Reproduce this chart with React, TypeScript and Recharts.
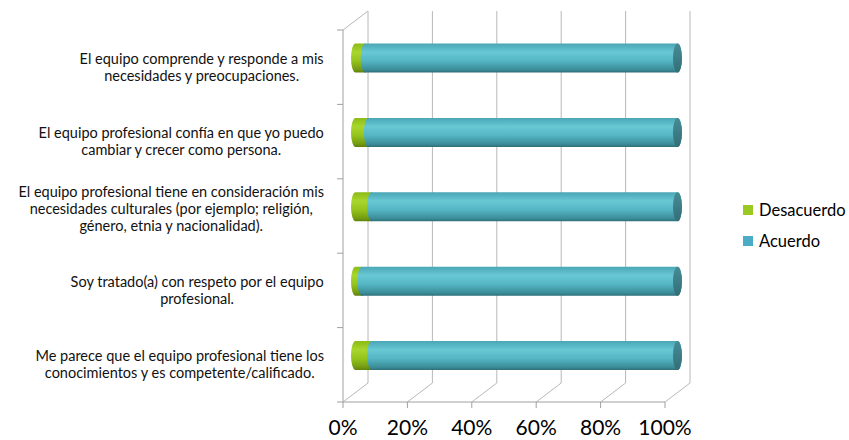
import React from 'react';
import { BarChart, Bar, XAxis, YAxis, CartesianGrid, Legend } from 'recharts';

// categories top to bottom, wrapped the way the original labels wrap
const categories = [
  'El equipo comprende y responde a mis\nnecesidades y preocupaciones.',
  'El equipo profesional confía en que yo puedo\ncambiar y crecer como persona.',
  'El equipo profesional tiene en consideración mis\nnecesidades culturales (por ejemplo; religión,\ngénero, etnia y nacionalidad).',
  'Soy tratado(a) con respeto por el equipo\nprofesional.',
  'Me parece que el equipo profesional tiene los\nconocimientos y es competente/calificado.',
];
const desacuerdo = [3, 4, 5, 2, 5];
const acuerdo = [97, 96, 95, 98, 95];
const xTicks = [0, 20, 40, 60, 80, 100];

const data = categories.map((name, i) => ({
  name,
  Desacuerdo: desacuerdo[i],
  Acuerdo: acuerdo[i],
}));

const W = 849;
const H = 440;
const PLOT_LEFT = 343;
const PLOT_TOP = 30;
const PLOT_RIGHT = 665;
const PLOT_BOTTOM = 402;
const DX = 25; // depth of the 3d box
const DY = -19;
const BAND = (PLOT_BOTTOM - PLOT_TOP) / categories.length;
const LABEL_RIGHT = 324;
const LABEL_SIZE = 14.5;
const FONT = 'Lato, "Open Sans", sans-serif';
const GRID = '#b8b8b8';
const AXIS = '#a0a0a0';

const GREEN = '#9bc922';
const TEAL = '#4bacc6';

let ctx: CanvasRenderingContext2D | null = null;
const measure = (s: string, size: number) => {
  if (!ctx) ctx = document.createElement('canvas').getContext('2d');
  if (!ctx) return s.length * size * 0.5;
  ctx.font = `${size}px Lato`;
  return ctx.measureText(s).width;
};

function CategoryTick(props: any) {
  const { y, payload, index } = props;
  const lines = String(payload.value).split('\n');
  const lineH = 17;
  const widest = Math.max(...lines.map((l) => measure(l, LABEL_SIZE)));
  const cx = LABEL_RIGHT - widest / 2;
  // three-line label sits a bit higher in the original
  const shift = lines.length > 2 ? -7 : 0;
  const startY = y + shift - ((lines.length - 1) * lineH) / 2;
  return (
    <g>
      <line x1={PLOT_LEFT - 6} x2={PLOT_LEFT} y1={y - BAND / 2} y2={y - BAND / 2} stroke={AXIS} />
      {index === categories.length - 1 && (
        <line x1={PLOT_LEFT - 6} x2={PLOT_LEFT} y1={y + BAND / 2} y2={y + BAND / 2} stroke={AXIS} />
      )}
      <text textAnchor="middle" fontSize={LABEL_SIZE} fontFamily={FONT} fill="#111">
        {lines.map((l, i) => (
          <tspan key={i} x={cx} y={startY + i * lineH} dy="0.35em">
            {l}
          </tspan>
        ))}
      </text>
    </g>
  );
}

const gridLine = (p: any) => {
  const { x1, y1, y2, index } = p;
  return (
    <g key={`v-${index}`}>
      <line x1={x1 + DX} y1={y1 + DY} x2={x1 + DX} y2={y2 + DY} stroke={GRID} />
      <line x1={x1} y1={y2} x2={x1 + DX} y2={y2 + DY} stroke={GRID} />
      {index === 0 && <line x1={x1} y1={y1} x2={x1 + DX} y2={y1 + DY} stroke={GRID} />}
    </g>
  );
};

function cylinder(withCap: boolean) {
  return (props: any) => {
    const { x, y, width, height, fill } = props;
    if (!width) return <g />;
    const x0 = x + DX / 2;
    const y0 = y + DY / 2;
    const x1 = x0 + width;
    const rx = 4.5;
    const ry = height / 2;
    const d = `M${x0},${y0} L${x1},${y0} A${rx},${ry} 0 0 1 ${x1},${y0 + height} L${x0},${y0 + height} A${rx},${ry} 0 0 1 ${x0},${y0} Z`;
    return (
      <g>
        <path d={d} fill={fill} />
        {withCap && <ellipse cx={x1} cy={y0 + ry} rx={rx} ry={ry} fill="url(#capTeal)" />}
      </g>
    );
  };
}

function LegendBox() {
  const items = [
    { name: 'Desacuerdo', color: GREEN },
    { name: 'Acuerdo', color: TEAL },
  ];
  return (
    <div style={{ fontFamily: FONT, fontSize: 16.5, color: '#000' }}>
      {items.map((it) => (
        <div key={it.name} style={{ display: 'flex', alignItems: 'center', height: 31 }}>
          <span style={{ width: 10, height: 10, background: it.color, marginRight: 6 }} />
          <span>{it.name}</span>
        </div>
      ))}
    </div>
  );
}

export default function App() {
  return (
    <div style={{ position: 'absolute', left: 0, top: 0, width: W, height: H, background: '#fff' }}>
      <BarChart
        width={W}
        height={H}
        data={data}
        layout="vertical"
        margin={{ top: PLOT_TOP, right: W - PLOT_RIGHT, bottom: 0, left: 0 }}
      >
        <defs>
          <linearGradient id="gTeal" x1="0" y1="0" x2="0" y2="1">
            <stop offset="0" stopColor="#4aa6b5" />
            <stop offset="0.3" stopColor="#68c8d4" />
            <stop offset="0.6" stopColor="#55b6c4" />
            <stop offset="0.9" stopColor="#3b8d99" />
            <stop offset="1" stopColor="#2f6f78" />
          </linearGradient>
          <linearGradient id="gGreen" x1="0" y1="0" x2="0" y2="1">
            <stop offset="0" stopColor="#8cbb16" />
            <stop offset="0.3" stopColor="#a9d62e" />
            <stop offset="0.6" stopColor="#95c41d" />
            <stop offset="0.9" stopColor="#739a10" />
            <stop offset="1" stopColor="#5e800c" />
          </linearGradient>
          <linearGradient id="capTeal" x1="0" y1="0" x2="0" y2="1">
            <stop offset="0" stopColor="#468c96" />
            <stop offset="1" stopColor="#346e76" />
          </linearGradient>
        </defs>
        <CartesianGrid horizontal={false} vertical={gridLine} />
        <XAxis
          type="number"
          domain={[0, 100]}
          ticks={xTicks}
          height={H - PLOT_BOTTOM}
          tickFormatter={(v) => `${v}%`}
          stroke={AXIS}
          tickSize={6}
          tickMargin={12}
          tick={{ fill: '#000', fontSize: 21, fontFamily: FONT }}
          interval={0}
        />
        <YAxis
          type="category"
          dataKey="name"
          width={PLOT_LEFT}
          stroke={AXIS}
          tickLine={false}
          tick={<CategoryTick />}
          interval={0}
        />
        <Legend
          layout="horizontal"
          align="center"
          verticalAlign="middle"
          content={() => <LegendBox />}
          wrapperStyle={{ left: 743, top: 194, width: 110 }}
        />
        <Bar
          dataKey="Desacuerdo"
          stackId="a"
          fill="url(#gGreen)"
          barSize={29}
          shape={cylinder(false)}
          isAnimationActive={false}
        />
        <Bar
          dataKey="Acuerdo"
          stackId="a"
          fill="url(#gTeal)"
          barSize={29}
          shape={cylinder(true)}
          isAnimationActive={false}
        />
      </BarChart>
    </div>
  );
}
